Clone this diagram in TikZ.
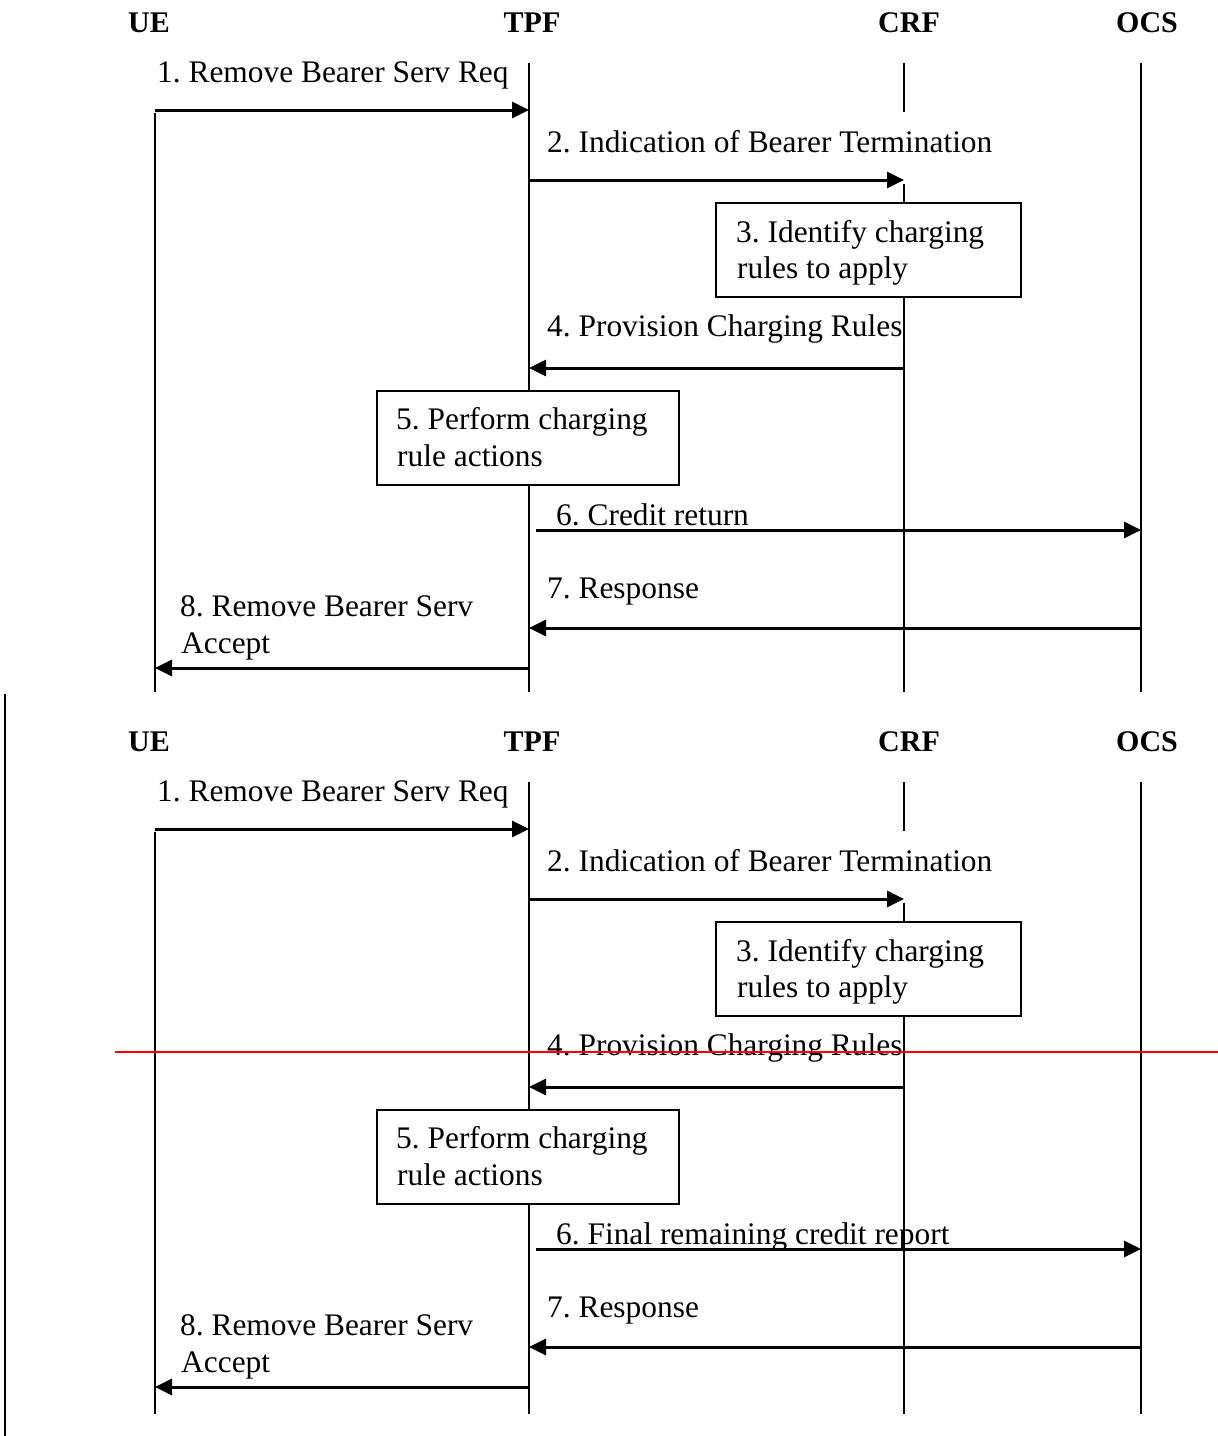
\documentclass[tikz,border=0pt]{standalone}
\usepackage{fontspec}
\setmainfont{Liberation Serif}
\usetikzlibrary{arrows.meta}
\frenchspacing

\tikzset{
  x=1pt, y=-1pt,
  life/.style={line width=1.6pt},
  msg/.style={line width=3pt, -{Triangle[length=17pt,width=16pt]}},
  lbl/.style={anchor=base west, inner sep=0pt, font=\fontsize{31.4}{36}\selectfont},
  hdr/.style={anchor=base, inner sep=0pt, font=\fontsize{30}{36}\selectfont\bfseries},
  actbox/.style={draw, fill=white, line width=1.4pt, inner sep=0pt},
}

% One complete bearer-removal flow; #1 = vertical offset, #2 = name suffix,
% #3 = text of message 6, #4 = bottom of the lifelines
\newcommand\bearerflow[4]{%
  \begin{scope}[yshift=-#1pt]
    % participants
    \node[hdr] (ue#2)  at (149,32)  {UE};
    \node[hdr] (tpf#2) at (532,32)  {TPF};
    \node[hdr] (crf#2) at (909,32)  {CRF};
    \node[hdr] (ocs#2) at (1147,32) {OCS};
    % lifeline end points
    \coordinate (ueA#2)   at (155,113);
    \coordinate (ueB#2)   at (155,#4);
    \coordinate (tpfA#2)  at (529,63);
    \coordinate (tpfB#2)  at (529,#4);
    \coordinate (crfA#2)  at (904,63);
    \coordinate (crfM#2)  at (904,112);
    \coordinate (crfN#2)  at (904,184);
    \coordinate (crfB#2)  at (904,#4);
    \coordinate (ocsA#2)  at (1141,63);
    \coordinate (ocsB#2)  at (1141,#4);
    % lifelines
    \draw[life] (ueA#2) -- (ueB#2);
    \draw[life] (tpfA#2) -- (tpfB#2);
    \draw[life] (crfA#2) -- (crfM#2);
    \draw[life] (crfN#2) -- (crfB#2);
    \draw[life] (ocsA#2) -- (ocsB#2);
    % message anchors on the lifelines
    \coordinate (m1s#2) at (155,110);  \coordinate (m1e#2) at (529,110);
    \coordinate (m2s#2) at (529,180);  \coordinate (m2e#2) at (904,180);
    \coordinate (m4s#2) at (904,368);  \coordinate (m4e#2) at (529,368);
    \coordinate (m6s#2) at (536,530);  \coordinate (m6e#2) at (1141,530);
    \coordinate (m7s#2) at (1141,628); \coordinate (m7e#2) at (529,628);
    \coordinate (m8s#2) at (529,668);  \coordinate (m8e#2) at (155,668);
    % messages
    \node[lbl] (l1#2) at (157,82) {1. Remove Bearer Serv Req};
    \draw[msg] (m1s#2) -- (m1e#2);
    \node[lbl] (l2#2) at (547,152) {2. Indication of Bearer Termination};
    \draw[msg] (m2s#2) -- (m2e#2);
    \node[actbox, minimum width=305pt, minimum height=94pt] (b3#2) at (868.5,250) {};
    \node[lbl] (b3a#2) at (736,242) {3. Identify charging};
    \node[lbl] (b3b#2) at (737,278) {rules to apply};
    \node[lbl] (l4#2) at (547,336) {4. Provision Charging Rules};
    \draw[msg] (m4s#2) -- (m4e#2);
    \node[actbox, minimum width=302pt, minimum height=94pt] (b5#2) at (528,438) {};
    \node[lbl] (b5a#2) at (396,429) {5. Perform charging};
    \node[lbl] (b5b#2) at (397,466) {rule actions};
    \node[lbl] (l6#2) at (556,525) {#3};
    \draw[msg] (m6s#2) -- (m6e#2);
    \node[lbl] (l7#2) at (547,598) {7. Response};
    \draw[msg] (m7s#2) -- (m7e#2);
    \node[lbl] (l8a#2) at (180,616) {8. Remove Bearer Serv};
    \node[lbl] (l8b#2) at (181,653) {Accept};
    \draw[msg] (m8s#2) -- (m8e#2);
  \end{scope}%
}

\begin{document}
\begin{tikzpicture}
  \useasboundingbox (0,0) rectangle (1218,1436);
  \bearerflow{0}{a}{6. Credit return}{692}
  \bearerflow{719}{b}{6. Final remaining credit report}{695}
  % margin rule on the left of the second flow
  \coordinate (vt) at (5,694);
  \coordinate (vb) at (5,1436);
  \draw[line width=2pt] (vt) -- (vb);
  % red horizontal rule
  \coordinate (rl) at (115,1052);
  \coordinate (rr) at (1218,1052);
  \draw[red, line width=2pt] (rl) -- (rr);
\end{tikzpicture}
\end{document}
